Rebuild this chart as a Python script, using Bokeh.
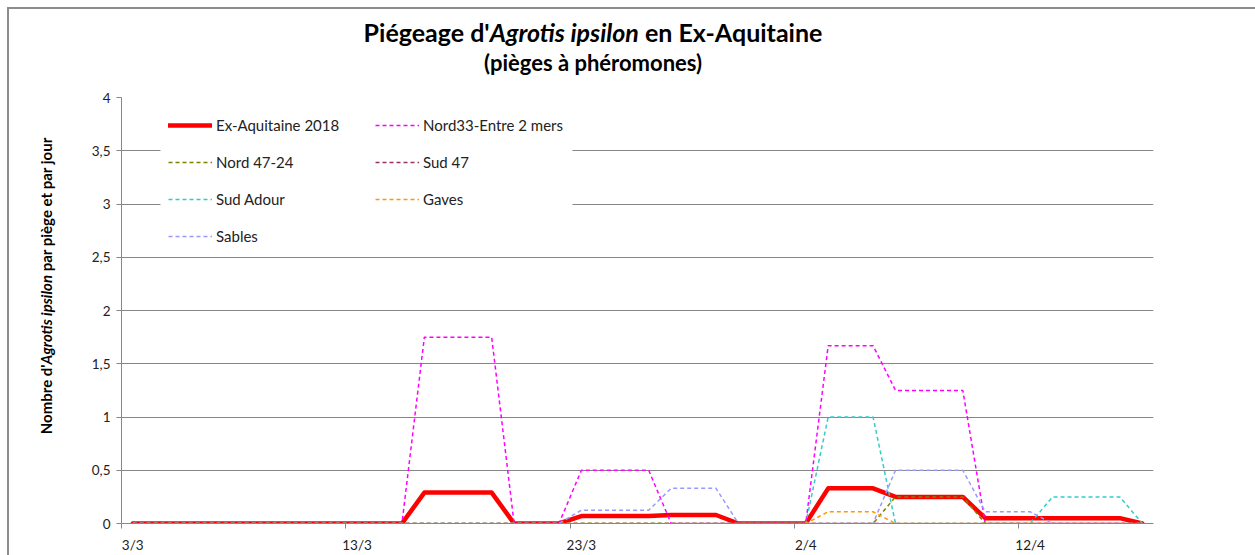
import pandas as pd
from bokeh.plotting import figure
from bokeh.models import Range1d, FixedTicker, Legend, LegendItem, BoxAnnotation, Div
from bokeh.layouts import column, row
from bokeh.embed import file_html
from bokeh.resources import INLINE

# ---------------- data ----------------
dates = [d.strftime("%-d/%-m") for d in pd.date_range("2018-03-03", "2018-04-17")]
days = list(range(len(dates)))

x_tick_pos = [0, 10, 20, 30, 40]
x_tick_labels = ["3/3", "13/3", "23/3", "2/4", "12/4"]
y_ticks = [0, 0.5, 1, 1.5, 2, 2.5, 3, 3.5, 4]
y_tick_labels = ["0", "0,5", "1", "1,5", "2", "2,5", "3", "3,5", "4"]

ex_aquitaine = [0, 0, 0, 0, 0, 0, 0, 0, 0, 0, 0, 0, 0,
                0.29, 0.29, 0.29, 0.29, 0, 0, 0,
                0.07, 0.07, 0.07, 0.07, 0.08, 0.08, 0.08, 0, 0, 0,
                0, 0.33, 0.33, 0.33, 0.25, 0.25, 0.25, 0.25,
                0.05, 0.05, 0.05, 0.05, 0.05, 0.05, 0.05, 0]
nord33 = [0, 0, 0, 0, 0, 0, 0, 0, 0, 0, 0, 0, 0,
          1.75, 1.75, 1.75, 1.75, 0, 0, 0,
          0.5, 0.5, 0.5, 0.5, 0, 0, 0, 0, 0, 0,
          0, 1.67, 1.67, 1.67, 1.25, 1.25, 1.25, 1.25,
          0, 0, 0, 0, 0, 0, 0, 0]
nord4724 = [0, 0, 0, 0, 0, 0, 0, 0, 0, 0, 0, 0, 0,
            0, 0, 0, 0, 0, 0, 0,
            0, 0, 0, 0, 0, 0, 0, 0, 0, 0,
            0, 0, 0, 0, 0.25, 0.25, 0.25, 0.25,
            0, 0, 0, 0, 0, 0, 0, 0]
sud47 = [0, 0, 0, 0, 0, 0, 0, 0, 0, 0, 0, 0, 0,
         0, 0, 0, 0, 0, 0, 0,
         0, 0, 0, 0, 0, 0, 0, 0, 0, 0,
         0, 0, 0, 0, 0, 0, 0, 0,
         0, 0, 0, 0, 0, 0, 0, 0]
sud_adour = [0, 0, 0, 0, 0, 0, 0, 0, 0, 0, 0, 0, 0,
             0, 0, 0, 0, 0, 0, 0,
             0, 0, 0, 0, 0, 0, 0, 0, 0, 0,
             0, 1.0, 1.0, 1.0, 0, 0, 0, 0,
             0, 0, 0, 0.25, 0.25, 0.25, 0.25, 0]
gaves = [0, 0, 0, 0, 0, 0, 0, 0, 0, 0, 0, 0, 0,
         0, 0, 0, 0, 0, 0, 0,
         0, 0, 0, 0, 0, 0, 0, 0, 0, 0,
         0, 0.11, 0.11, 0.11, 0, 0, 0, 0,
         0, 0, 0, 0, 0, 0, 0, 0]
sables = [0, 0, 0, 0, 0, 0, 0, 0, 0, 0, 0, 0, 0,
          0, 0, 0, 0, 0, 0, 0,
          0.125, 0.125, 0.125, 0.125, 0.33, 0.33, 0.33, 0, 0, 0,
          0, 0, 0, 0, 0.5, 0.5, 0.5, 0.5,
          0.11, 0.11, 0.11, 0, 0, 0, 0, 0]

series_names = ["Ex-Aquitaine 2018", "Nord33-Entre 2 mers", "Nord 47-24", "Sud 47",
                "Sud Adour", "Gaves", "Sables"]
series_values = [ex_aquitaine, nord33, nord4724, sud47, sud_adour, gaves, sables]
series_colors = ["#FF0000", "#FF00FF", "#808000", "#993366", "#33CCCC", "#FF9900", "#9999FF"]

title_parts = ["Piégeage d'", "Agrotis ipsilon", " en Ex-Aquitaine"]
subtitle = "(pièges à phéromones)"
ylabel_parts = ["Nombre d'", "Agrotis ipsilon", " par piège et par jour"]

# ---------------- layout ----------------
PAGE_W, PAGE_H = 1255, 555
TOP_H = 89          # height of the title block
LEFT_W = 60         # width of the y-label block
FONT = "Lato"
GRID = "#868686"
BORDER = "#8c8c8c"

# frame geometry in page pixels
FL, FR, FT, FB = 121, 1153, 97, 523
X0, X1 = -0.5, 45.5
Y0, Y1 = 0, 4


def xd(px):
    return X0 + (px - FL) * (X1 - X0) / (FR - FL)


def yd(py):
    return Y0 + (FB - py) * (Y1 - Y0) / (FB - FT)


PW, PH = PAGE_W - LEFT_W, PAGE_H - TOP_H
p = figure(width=PW, height=PH, x_range=Range1d(X0, X1), y_range=Range1d(Y0, Y1),
           output_backend="svg", toolbar_location=None, title=None,
           min_border_left=FL - LEFT_W, min_border_right=PAGE_W - FR,
           min_border_top=FT - TOP_H, min_border_bottom=PAGE_H - FB,
           border_fill_color="white", background_fill_color="white",
           outline_line_color=None)

# axes
p.xaxis.ticker = FixedTicker(ticks=x_tick_pos, minor_ticks=[t - 0.5 for t in x_tick_pos])
p.xaxis.major_label_overrides = {t: l for t, l in zip(x_tick_pos, x_tick_labels)}
p.xaxis.major_tick_line_color = None
p.xaxis.major_tick_out = 0
p.xaxis.minor_tick_line_color = GRID
p.xaxis.minor_tick_in = 0
p.xaxis.minor_tick_out = 5
p.xaxis.axis_line_color = GRID
p.xaxis.major_label_standoff = 8
p.xaxis.major_label_text_font = FONT
p.xaxis.major_label_text_font_size = "13.5px"
p.xaxis.major_label_text_color = "#222222"

p.yaxis.ticker = FixedTicker(ticks=y_ticks)
p.yaxis.major_label_overrides = {t: l for t, l in zip(y_ticks, y_tick_labels)}
p.yaxis.major_tick_line_color = GRID
p.yaxis.major_tick_in = 0
p.yaxis.major_tick_out = 5
p.yaxis.minor_tick_line_color = None
p.yaxis.axis_line_color = GRID
p.yaxis.major_label_standoff = 6
p.yaxis.major_label_text_font = FONT
p.yaxis.major_label_text_font_size = "13.5px"
p.yaxis.major_label_text_color = "#222222"

p.xgrid.grid_line_color = None
p.ygrid.ticker = FixedTicker(ticks=y_ticks)
p.ygrid.grid_line_color = GRID
p.ygrid.grid_line_width = 1

# lines
renderers = []
for name, vals, col in zip(series_names, series_values, series_colors):
    if name == "Ex-Aquitaine 2018":
        r = p.line(days, vals, line_color=col, line_width=4.5, line_join="round", line_cap="round")
    else:
        r = p.line(days, vals, line_color=col, line_width=1.5, line_dash="4 3")
    renderers.append(r)

# white legend box
p.add_layout(BoxAnnotation(left=xd(160), right=xd(572), top=yd(108), bottom=yd(254),
                           fill_color="white", fill_alpha=1.0, line_color=None))

legend_cols = [[0, 2, 4, 6], [1, 3, 5]]
legend_left = [168, 375]
for idxs, lx in zip(legend_cols, legend_left):
    items = [LegendItem(label=series_names[i], renderers=[renderers[i]]) for i in idxs]
    n = len(idxs)
    h = n * 20 + (n - 1) * 17
    top = 115
    leg = Legend(items=items, location=(lx - FL, (FB - top) - h),
                 glyph_width=44, glyph_height=20, label_height=20, spacing=17,
                 label_standoff=4, padding=0, margin=0,
                 border_line_color=None, background_fill_alpha=0,
                 label_text_font=FONT, label_text_font_size="15px",
                 label_text_color="#222222")
    p.add_layout(leg)

# title block (real HTML text, with italic species name)
title_html = (
    f'<div style="position:relative;width:{PAGE_W}px;height:{TOP_H}px;overflow:hidden;'
    f'background:white;font-family:{FONT};color:black;">'
    f'<div style="position:absolute;left:7px;top:7px;width:{PAGE_W}px;height:{TOP_H}px;'
    f'border-top:2px solid {BORDER};border-left:2px solid {BORDER};"></div>'
    f'<div style="position:absolute;left:0;top:17px;width:1186px;text-align:center;'
    f'font-weight:bold;font-size:25px;line-height:30px;white-space:nowrap;">'
    f'{title_parts[0]}<i>{title_parts[1]}</i>{title_parts[2]}</div>'
    f'<div style="position:absolute;left:0;top:50px;width:1186px;text-align:center;'
    f'font-weight:bold;font-size:22px;line-height:26px;white-space:nowrap;">{subtitle}</div>'
    f'</div>'
)
title_div = Div(text=title_html, width=PAGE_W, height=TOP_H, margin=0)

ylab_html = (
    f'<div style="position:relative;width:{LEFT_W}px;height:{PH}px;overflow:hidden;'
    f'background:white;font-family:{FONT};color:black;">'
    f'<div style="position:absolute;left:7px;top:0;width:{LEFT_W}px;height:{PH}px;'
    f'border-left:2px solid {BORDER};"></div>'
    f'<div style="position:absolute;left:46px;top:{286 - TOP_H}px;'
    f'transform:translate(-50%,-50%) rotate(-90deg);white-space:nowrap;'
    f'font-weight:bold;font-size:15px;line-height:18px;">'
    f'{ylabel_parts[0]}<i>{ylabel_parts[1]}</i>{ylabel_parts[2]}</div>'
    f'</div>'
)
ylab_div = Div(text=ylab_html, width=LEFT_W, height=PH, margin=0)

layout = column(title_div, row(ylab_div, p, spacing=0), spacing=0)

open("out.html", "w").write(file_html(layout, INLINE))
